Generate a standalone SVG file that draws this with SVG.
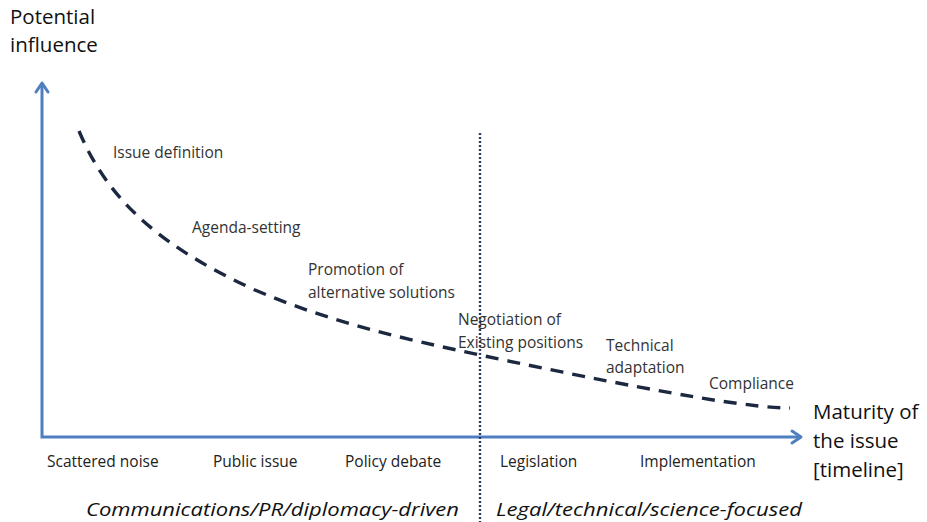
<svg xmlns="http://www.w3.org/2000/svg" width="927" height="522" viewBox="0 0 927 522">
  <defs>
    <style>
      .axis { stroke: #4f7fc0; stroke-width: 3; fill: none; }
      .head { stroke: #4f7fc0; stroke-width: 3; fill: none; stroke-linecap: round; stroke-linejoin: round; }
      .curve { stroke: #1c2740; stroke-width: 3.4; fill: none; stroke-dasharray: 13 9; }
      .divider { stroke: #2a3d66; stroke-width: 2.4; fill: none; stroke-dasharray: 2 2; }
      .lbl { font-family: "Open Sans", "Liberation Sans", sans-serif; font-size: 15.5px; fill: #333; }
      .axt { font-family: "Open Sans", "Liberation Sans", sans-serif; font-size: 20.5px; fill: #111; }
      .cat { font-family: "Open Sans", "Liberation Sans", sans-serif; font-size: 15.5px; fill: #222; }
      .zone { font-family: "Open Sans", "Liberation Sans", sans-serif; font-size: 19px; font-style: italic; fill: #111; }
    </style>
  </defs>

  <rect width="927" height="522" fill="#ffffff"/>

  <!-- axes -->
  <g id="axes">
    <path class="axis" d="M42,83 V437 H800"/>
    <path class="head" d="M36,92 L42,83 L48,92"/>
    <path class="head" d="M792,431 L801,437 L792,443"/>
  </g>

  <!-- vertical divider between the two phases -->
  <g id="divider">
    <path class="divider" d="M480,133 V522"/>
  </g>

  <!-- influence curve -->
  <g id="connectors">
    <path class="curve" d="M79,131 C103,188 145,240 255,290 C330,322 400,338 480,355 C560,372 660,392 720,401 C750,405 770,408 790,408"/>
  </g>

  <!-- axis titles -->
  <g id="y-title">
    <text class="axt" x="10" y="24">Potential</text>
    <text class="axt" x="10" y="52">influence</text>
  </g>
  <g id="x-title">
    <text class="axt" x="813" y="419">Maturity of</text>
    <text class="axt" x="813" y="448">the issue</text>
    <text class="axt" x="813" y="477">[timeline]</text>
  </g>

  <!-- stage labels along the curve -->
  <g id="stage-issue-definition">
    <text class="lbl" x="113" y="158">Issue definition</text>
  </g>
  <g id="stage-agenda-setting">
    <text class="lbl" x="192" y="233">Agenda-setting</text>
  </g>
  <g id="stage-promotion">
    <text class="lbl" x="308" y="275">Promotion of</text>
    <text class="lbl" x="308" y="298">alternative solutions</text>
  </g>
  <g id="stage-negotiation">
    <text class="lbl" x="458" y="325">Negotiation of</text>
    <text class="lbl" x="458" y="348">Existing positions</text>
  </g>
  <g id="stage-technical">
    <text class="lbl" x="606" y="351">Technical</text>
    <text class="lbl" x="606" y="373">adaptation</text>
  </g>
  <g id="stage-compliance">
    <text class="lbl" x="709" y="389">Compliance</text>
  </g>

  <!-- timeline categories -->
  <g id="timeline">
    <text class="cat" x="47" y="467">Scattered noise</text>
    <text class="cat" x="213" y="467">Public issue</text>
    <text class="cat" x="345" y="467">Policy debate</text>
    <text class="cat" x="500" y="467">Legislation</text>
    <text class="cat" x="640" y="467">Implementation</text>
  </g>

  <!-- phase captions -->
  <g id="phase-left">
    <text class="zone" x="86" y="516" textLength="373" lengthAdjust="spacingAndGlyphs">Communications/PR/diplomacy-driven</text>
  </g>
  <g id="phase-right">
    <text class="zone" x="496" y="516" textLength="306" lengthAdjust="spacingAndGlyphs">Legal/technical/science-focused</text>
  </g>
</svg>
